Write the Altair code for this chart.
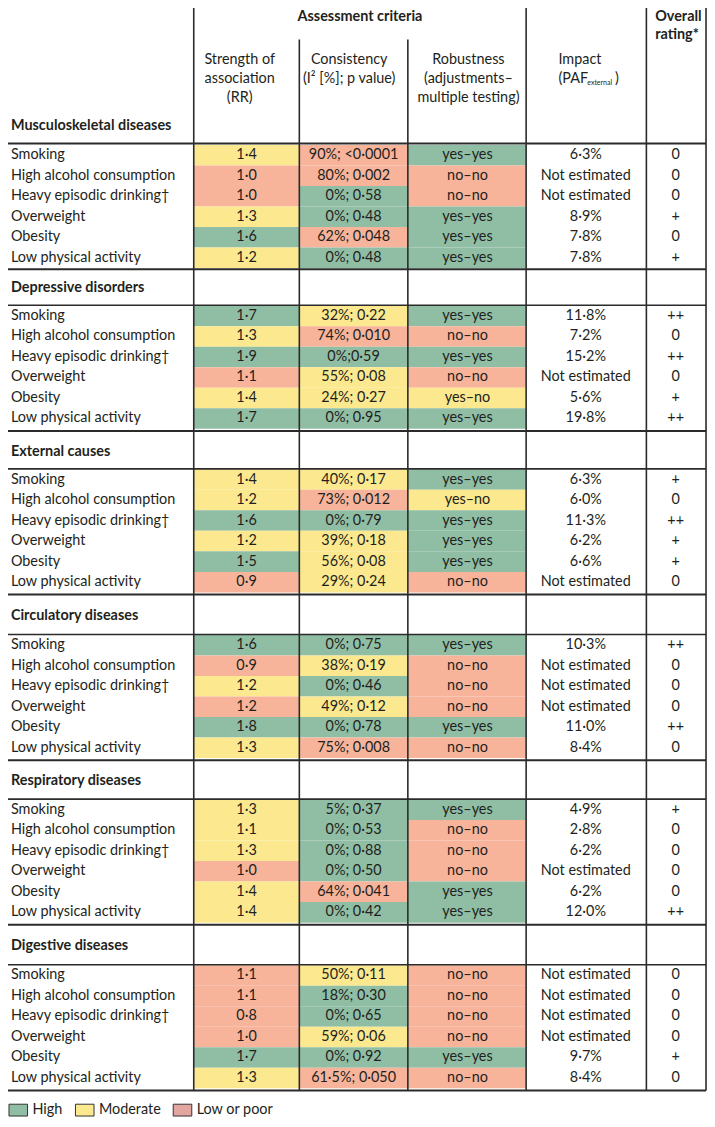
import altair as alt
import pandas as pd

# ---------------- data ----------------
sections = ["Musculoskeletal diseases", "Depressive disorders", "External causes",
            "Circulatory diseases", "Respiratory diseases", "Digestive diseases"]
factors = ["Smoking", "High alcohol consumption", "Heavy episodic drinking\u2020",
           "Overweight", "Obesity", "Low physical activity"]

rr_text = [
    ["1·4", "1·0", "1·0", "1·3", "1·6", "1·2"],
    ["1·7", "1·3", "1·9", "1·1", "1·4", "1·7"],
    ["1·4", "1·2", "1·6", "1·2", "1·5", "0·9"],
    ["1·6", "0·9", "1·2", "1·2", "1·8", "1·3"],
    ["1·3", "1·1", "1·3", "1·0", "1·4", "1·4"],
    ["1·1", "1·1", "0·8", "1·0", "1·7", "1·3"],
]
rr_grade = [
    ["M", "L", "L", "M", "H", "M"],
    ["H", "M", "H", "L", "M", "H"],
    ["M", "M", "H", "M", "H", "L"],
    ["H", "L", "M", "L", "H", "M"],
    ["M", "M", "M", "L", "M", "M"],
    ["L", "L", "L", "L", "H", "M"],
]
cons_text = [
    ["90%; <0·0001", "80%; 0·002", "0%; 0·58", "0%; 0·48", "62%; 0·048", "0%; 0·48"],
    ["32%; 0·22", "74%; 0·010", "0%;0·59", "55%; 0·08", "24%; 0·27", "0%; 0·95"],
    ["40%; 0·17", "73%; 0·012", "0%; 0·79", "39%; 0·18", "56%; 0·08", "29%; 0·24"],
    ["0%; 0·75", "38%; 0·19", "0%; 0·46", "49%; 0·12", "0%; 0·78", "75%; 0·008"],
    ["5%; 0·37", "0%; 0·53", "0%; 0·88", "0%; 0·50", "64%; 0·041", "0%; 0·42"],
    ["50%; 0·11", "18%; 0·30", "0%; 0·65", "59%; 0·06", "0%; 0·92", "61·5%; 0·050"],
]
cons_grade = [
    ["L", "L", "H", "H", "L", "H"],
    ["M", "L", "H", "M", "M", "H"],
    ["M", "L", "H", "M", "M", "M"],
    ["H", "M", "H", "M", "H", "L"],
    ["H", "H", "H", "H", "L", "H"],
    ["M", "H", "H", "M", "H", "L"],
]
rob_text = [
    ["yes–yes", "no–no", "no–no", "yes–yes", "yes–yes", "yes–yes"],
    ["yes–yes", "no–no", "yes–yes", "no–no", "yes–no", "yes–yes"],
    ["yes–yes", "yes–no", "yes–yes", "yes–yes", "yes–yes", "no–no"],
    ["yes–yes", "no–no", "no–no", "no–no", "yes–yes", "no–no"],
    ["yes–yes", "no–no", "no–no", "no–no", "yes–yes", "yes–yes"],
    ["no–no", "no–no", "no–no", "no–no", "yes–yes", "no–no"],
]
rob_grade = [
    ["H", "L", "L", "H", "H", "H"],
    ["H", "L", "H", "L", "M", "H"],
    ["H", "M", "H", "H", "H", "L"],
    ["H", "L", "L", "L", "H", "L"],
    ["H", "L", "L", "L", "H", "H"],
    ["L", "L", "L", "L", "H", "L"],
]
impact_text = [
    ["6·3%", "Not estimated", "Not estimated", "8·9%", "7·8%", "7·8%"],
    ["11·8%", "7·2%", "15·2%", "Not estimated", "5·6%", "19·8%"],
    ["6·3%", "6·0%", "11·3%", "6·2%", "6·6%", "Not estimated"],
    ["10·3%", "Not estimated", "Not estimated", "Not estimated", "11·0%", "8·4%"],
    ["4·9%", "2·8%", "6·2%", "Not estimated", "6·2%", "12·0%"],
    ["Not estimated", "Not estimated", "Not estimated", "Not estimated", "9·7%", "8·4%"],
]
rating_text = [
    ["0", "0", "0", "+", "0", "+"],
    ["++", "0", "++", "0", "+", "++"],
    ["+", "0", "++", "+", "+", "0"],
    ["++", "0", "0", "0", "++", "0"],
    ["+", "0", "0", "0", "0", "++"],
    ["0", "0", "0", "0", "+", "0"],
]
legend_codes = ["H", "M", "L"]
legend_labels = ["High", "Moderate", "Low or poor"]

# ---------------- layout (reference pixel units) ----------------
W_REF, H_REF = 715, 1127
COL_EDGES = [0, 190, 298, 409, 530, 653, 714]
COL_CENTERS = [None, 244, 353.5, 470, 591, 683]
BLOCK_TOP = [139, 302, 468, 636, 803, 971]
ROW_H = 20.8
THICK_LINES = [137.5, 265, 429, 595, 763, 930, 1098]
HEAD_LINES = [301.5, 467.5, 635.5, 802.5, 970.5]
HEAD_Y = [120, 284, 450, 617, 784, 952]
LABEL_X = 3

FONT = "Lato"
FS = 14.4
TXT = "#231f20"
LINE = "#2b2b2b"
grade_colors = ["#90bea5", "#fce98f", "#f7b49b"]

# ---------------- tables ----------------
cells, texts = [], []
for s in range(len(sections)):
    for r in range(len(factors)):
        y0 = BLOCK_TOP[s] + r * ROW_H
        y1 = y0 + ROW_H
        yc = (y0 + y1) / 2
        for c, (tv, gv) in enumerate([(rr_text, rr_grade), (cons_text, cons_grade), (rob_text, rob_grade)], start=1):
            cells.append(dict(x0=COL_EDGES[c], x1=COL_EDGES[c + 1], y0=y0, y1=y1, g=gv[s][r]))
            texts.append(dict(x=COL_CENTERS[c], y=yc, t=tv[s][r]))
        texts.append(dict(x=COL_CENTERS[4], y=yc, t=impact_text[s][r]))
        texts.append(dict(x=COL_CENTERS[5], y=yc, t=rating_text[s][r]))
cells = pd.DataFrame(cells)
texts = pd.DataFrame(texts)

labels = pd.DataFrame([dict(x=LABEL_X, y=BLOCK_TOP[s] + (r + 0.5) * ROW_H, t=factors[r])
                       for s in range(len(sections)) for r in range(len(factors))])
heads = pd.DataFrame([dict(x=LABEL_X, y=HEAD_Y[s], t=sections[s]) for s in range(len(sections))])

hlines = pd.DataFrame([dict(x0=0, x1=COL_EDGES[-1], y=v, w=2.0) for v in THICK_LINES] +
                      [dict(x0=0, x1=COL_EDGES[-1], y=v, w=1.6) for v in HEAD_LINES])
vlines = pd.DataFrame([dict(x=COL_EDGES[1], y0=0, y1=THICK_LINES[-1]),
                       dict(x=COL_EDGES[2], y0=32, y1=THICK_LINES[-1]),
                       dict(x=COL_EDGES[3], y0=32, y1=THICK_LINES[-1]),
                       dict(x=COL_EDGES[4], y0=0, y1=THICK_LINES[-1]),
                       dict(x=COL_EDGES[5], y0=0, y1=THICK_LINES[-1]),
                       dict(x=COL_EDGES[6], y0=0, y1=THICK_LINES[-1])])

hdr_bold_c = pd.DataFrame([dict(x=360, y=9, t="Assessment criteria")])
hdr_bold_l = pd.DataFrame([dict(x=662, y=9, t="Overall"), dict(x=662, y=27, t="rating*")])
hdr_reg_c = pd.DataFrame([
    dict(x=237, y=53, t="Strength of"), dict(x=237, y=72, t="association"), dict(x=237, y=91, t="(RR)"),
    dict(x=349, y=53, t="Consistency"), dict(x=349, y=72, t="(I\u00b2 [%]; p value)"),
    dict(x=471, y=53, t="Robustness"), dict(x=471, y=72, t="(adjustments\u2013"),
    dict(x=471, y=91, t="multiple testing)"),
])
hdr_reg_l = pd.DataFrame([dict(x=563, y=53, t="Impact"), dict(x=563, y=72, t="(PAF"),
                          dict(x=621, y=72, t=")")])
hdr_sub = pd.DataFrame([dict(x=592.5, y=76, t="external")])

leg_rects = pd.DataFrame([dict(x0=x0, x1=x0 + 19, y0=1112, y1=1124, g=g)
                          for x0, g in zip([1, 69, 169], legend_codes)])
leg_text = pd.DataFrame([dict(x=x, y=1118, t=t) for x, t in zip([25, 93, 193], legend_labels)])
legend_colors = ["#90bea5", "#fce98f", "#e3a5a0"]

# ---------------- encodings ----------------
xs = alt.Scale(domain=[0, W_REF], nice=False, zero=False)
ys = alt.Scale(domain=[0, H_REF], nice=False, zero=False, reverse=True)
X = lambda f: alt.X(f, type="quantitative", scale=xs, axis=None)
Y = lambda f: alt.Y(f, type="quantitative", scale=ys, axis=None)
gscale = alt.Scale(domain=legend_codes, range=grade_colors)

rects = alt.Chart(cells).mark_rect(strokeWidth=0).encode(
    x=X("x0"), x2="x1", y=Y("y0"), y2="y1",
    color=alt.Color("g:N", scale=gscale, legend=None))

def text_layer(df, align="center", weight="normal", size=FS):
    return alt.Chart(df).mark_text(align=align, baseline="middle", font=FONT, fontSize=size,
                                   fontWeight=weight, color=TXT).encode(
        x=X("x"), y=Y("y"), text="t:N")

hl = alt.Chart(hlines).mark_rule(color=LINE).encode(
    x=X("x0"), x2="x1", y=Y("y"), strokeWidth=alt.StrokeWidth("w:Q", scale=None))
vl = alt.Chart(vlines).mark_rule(color=LINE, strokeWidth=1.6).encode(
    x=X("x"), y=Y("y0"), y2="y1")

leg_r = alt.Chart(leg_rects).mark_rect(stroke="#333333", strokeWidth=1).encode(
    x=X("x0"), x2="x1", y=Y("y0"), y2="y1",
    color=alt.Color("g:N", scale=alt.Scale(domain=legend_codes, range=legend_colors), legend=None))

chart = alt.layer(
    rects,
    text_layer(texts),
    text_layer(labels, align="left"),
    text_layer(heads, align="left", weight="bold"),
    text_layer(hdr_bold_c, weight="bold"),
    text_layer(hdr_bold_l, align="left", weight="bold"),
    text_layer(hdr_reg_c),
    text_layer(hdr_reg_l, align="left"),
    text_layer(hdr_sub, align="left", size=7),
    hl, vl,
    leg_r,
    text_layer(leg_text, align="left"),
).resolve_scale(color="independent").properties(
    width=699, height=1111, padding=0,
    autosize=alt.AutoSizeParams(type="none"),
).configure_view(stroke=None)

chart.save("out.html", embed_options={"renderer": "svg", "actions": False})
